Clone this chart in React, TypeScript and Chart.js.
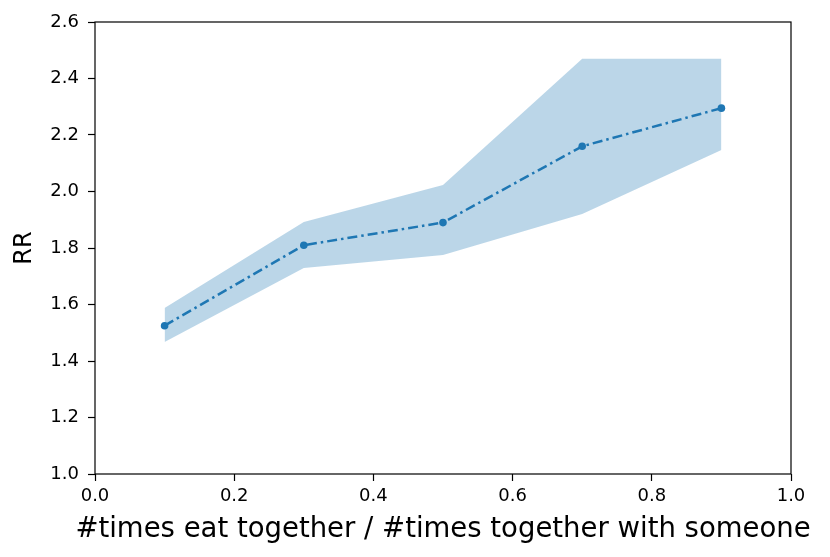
import React, { useEffect, useRef } from "react";
import { Chart, registerables } from "chart.js";

Chart.register(...registerables);

const xValues = [0.1, 0.3, 0.5, 0.7, 0.9];
const rrValues = [1.525, 1.81, 1.89, 2.16, 2.295];
const upperValues = [1.588, 1.892, 2.023, 2.47, 2.47];
const lowerValues = [1.467, 1.729, 1.775, 1.92, 2.147];
const xAxisTitle = "#times eat together / #times together with someone";
const yAxisTitle = "RR";

const boxPlugin = {
  id: "box",
  afterDraw(chart: any) {
    const { ctx, chartArea } = chart;
    ctx.save();
    ctx.strokeStyle = "#000";
    ctx.lineWidth = 1.2;
    ctx.strokeRect(chartArea.left, chartArea.top, chartArea.right - chartArea.left, chartArea.bottom - chartArea.top);
    ctx.fillStyle = "#000";
    ctx.font = "27.5px 'DejaVu Sans'";
    ctx.textAlign = "center";
    ctx.textBaseline = "alphabetic";
    ctx.fillText(xAxisTitle, (chartArea.left + chartArea.right) / 2, chartArea.bottom + 63);
    ctx.restore();
  },
};

export default function App() {
  const ref = useRef<HTMLCanvasElement>(null);
  useEffect(() => {
    document.body.style.margin = "0";
    const pts = (ys: number[]) => xValues.map((x, i) => ({ x, y: ys[i] }));
    const chart = new Chart(ref.current!, {
      type: "line",
      data: {
        datasets: [
          {
            data: pts(lowerValues),
            borderWidth: 0,
            pointRadius: 0,
            fill: false,
            borderColor: "rgba(0,0,0,0)",
            tension: 0,
          },
          {
            data: pts(upperValues),
            borderWidth: 0,
            pointRadius: 0,
            fill: "-1",
            backgroundColor: "rgba(31,119,180,0.3)",
            borderColor: "rgba(0,0,0,0)",
            tension: 0,
          },
          {
            data: pts(rrValues),
            borderColor: "#1f77b4",
            backgroundColor: "#1f77b4",
            borderWidth: 2.5,
            borderDash: [10, 4, 2.5, 4],
            pointRadius: 3.8,
            pointBorderWidth: 0,
            fill: false,
            tension: 0,
          },
        ],
      },
      options: {
        animation: false,
        responsive: false,
        devicePixelRatio: 1,
        layout: { padding: { top: 22, right: 39, left: 0, bottom: 0 } },
        plugins: { legend: { display: false }, tooltip: { enabled: false } },
        scales: {
          x: {
            type: "linear",
            min: 0,
            max: 1,
            ticks: {
              stepSize: 0.2,
              color: "#000",
              font: { family: "DejaVu Sans", size: 18 },
              padding: 5,
              maxRotation: 0,
              callback: (v: any) => Number(v).toFixed(1),
            },
            grid: { drawOnChartArea: false, drawTicks: true, tickLength: 7, tickWidth: 1.2, color: "#000" },
            border: { display: false },
            title: { display: false },
            afterFit: (s: any) => {
              s.height = 83;
            },
          },
          y: {
            min: 1.0,
            max: 2.6,
            ticks: {
              stepSize: 0.2,
              color: "#000",
              font: { family: "DejaVu Sans", size: 18 },
              padding: 9,
              callback: (v: any) => Number(v).toFixed(1),
            },
            grid: { drawOnChartArea: false, drawTicks: true, tickLength: 7, tickWidth: 1.2, color: "#000" },
            border: { display: false },
            title: {
              display: true,
              text: yAxisTitle,
              color: "#000",
              font: { family: "DejaVu Sans", size: 24 },
              padding: { top: 10, bottom: 0 },
            },
            afterFit: (s: any) => {
              s.width = 95;
            },
          },
        },
      },
      plugins: [boxPlugin],
    });
    return () => chart.destroy();
  }, []);
  return (
    <div style={{ width: 830, height: 557 }}>
      <canvas ref={ref} width={830} height={557} style={{ width: 830, height: 557 }} />
    </div>
  );
}
